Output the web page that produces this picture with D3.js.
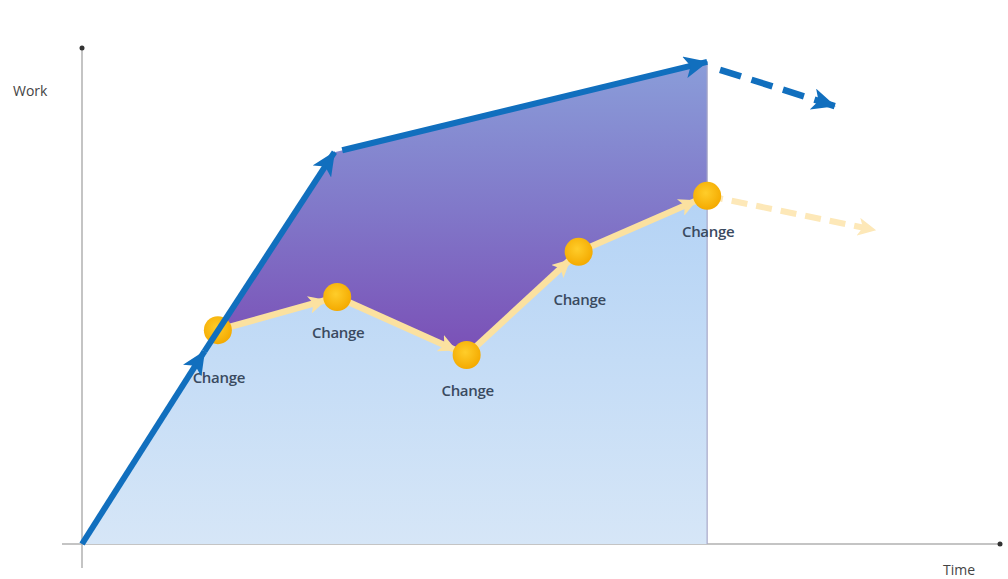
<!DOCTYPE html>
<html>
<head>
<meta charset="utf-8">
<script src="https://cdn.jsdelivr.net/npm/d3@7"></script>
<style>
  body { margin: 0; background: #fff; }
  svg { display: block; }
  .label { font-family: "Open Sans", sans-serif; font-size: 15px; font-weight: 600; fill: #3a4a60; text-anchor: middle; letter-spacing: -0.3px; }
  .axis-title { font-family: "Open Sans", sans-serif; font-size: 14px; fill: #444; }
</style>
</head>
<body>
<svg id="chart" width="1008" height="579"></svg>
<script>
// planned work (blue): time / work
const planTime = [0, 14.8, 27.5, 68.1];
const planWork = [0, 43.1, 79, 97.2];
// projected continuation of the plan (dashed blue)
const planNextTime = [69.5, 82];
const planNextWork = [95.6, 88.3];
// change points (yellow)
const changeTime = [14.8, 27.8, 41.9, 54.1, 68.1];
const changeWork = [43.1, 49.8, 38.1, 58.9, 70.2];
const changeLabels = ["Change", "Change", "Change", "Change", "Change"];
// projected continuation after last change (dashed yellow)
const changeNextTime = [68.1, 86.4];
const changeNextWork = [70.2, 63.3];
const axisLabels = {x: "Time", y: "Work"};

const svg = d3.select("#chart");
const x = d3.scaleLinear().domain([0, 100]).range([82, 1000]);
const y = d3.scaleLinear().domain([0, 100]).range([544, 48]);

const plan = planTime.map((t, i) => ({t: t, w: planWork[i]}));
const changes = changeTime.map((t, i) => ({t: t, w: changeWork[i], label: changeLabels[i]}));
const tEnd = changeTime[changeTime.length - 1];

const defs = svg.append("defs");

function linGrad(id, y1, y2, stops) {
    let g = defs.append("linearGradient").attr("id", id)
        .attr("gradientUnits", "userSpaceOnUse")
        .attr("x1", 0).attr("x2", 0).attr("y1", y1).attr("y2", y2);
    stops.forEach(([o, c]) => g.append("stop").attr("offset", o).attr("stop-color", c));
}
linGrad("purpleGrad", y(97), y(38), [[0, "#8a9dd9"], [0.5, "#8178c9"], [1, "#7a4fb6"]]);
linGrad("blueGrad", y(70), y(0), [[0, "#b4d3f5"], [1, "#d6e6f7"]]);

let rg = defs.append("radialGradient").attr("id", "dotGrad").attr("cx", "45%").attr("cy", "40%").attr("r", "60%");
rg.append("stop").attr("offset", 0).attr("stop-color", "#ffcd2a");
rg.append("stop").attr("offset", 1).attr("stop-color", "#f4aa00");

function marker(id, color, len, wid) {
    defs.append("marker").attr("id", id)
        .attr("markerUnits", "userSpaceOnUse")
        .attr("viewBox", `0 0 ${len} ${wid}`)
        .attr("refX", len - 1).attr("refY", wid / 2)
        .attr("markerWidth", len).attr("markerHeight", wid)
        .attr("orient", "auto")
        .append("path")
        .attr("d", `M0,0 L${len},${wid / 2} L0,${wid} L${len * 0.25},${wid / 2} Z`)
        .attr("fill", color);
}
marker("blueHead", "#116fbe", 24, 22);
marker("yellowHead", "#fbe1a0", 18, 18);
marker("paleHead", "#fde8b8", 18, 18);

const line = d3.line().x(d => x(d.t)).y(d => y(d.w));

// axes
svg.append("line")
    .attr("x1", x(0)).attr("x2", x(0))
    .attr("y1", y(100)).attr("y2", y(0) + 24)
    .attr("stroke", "#b0b0b0").attr("stroke-width", 1.5);
svg.append("circle").attr("cx", x(0)).attr("cy", y(100)).attr("r", 2.5).attr("fill", "#333");
svg.append("line")
    .attr("x1", x(0) - 20).attr("x2", x(100))
    .attr("y1", y(0)).attr("y2", y(0))
    .attr("stroke", "#b0b0b0").attr("stroke-width", 1.5);
svg.append("circle").attr("cx", x(100)).attr("cy", y(0)).attr("r", 2.5).attr("fill", "#333");
svg.append("text").attr("class", "axis-title").attr("x", 13).attr("y", 96).text(axisLabels.y);
svg.append("text").attr("class", "axis-title").attr("x", 943).attr("y", 575).text(axisLabels.x);

// light blue area: below plan up to first change, then below the changes
const lowArea = [plan[0]].concat(changes, [{t: tEnd, w: 0}]);
svg.append("path").attr("d", line(lowArea) + "Z").attr("fill", "url(#blueGrad)");

// purple area between plan and changes
const upper = plan.filter(p => p.t >= changes[0].t);
const purpleArea = upper.concat(changes.slice().reverse());
svg.append("path").attr("d", line(purpleArea) + "Z").attr("fill", "url(#purpleGrad)");

// vertical line at the last change
svg.append("line")
    .attr("x1", x(tEnd)).attr("x2", x(tEnd))
    .attr("y1", y(planWork[planWork.length - 1])).attr("y2", y(0))
    .attr("stroke", "#a8a8c8").attr("stroke-width", 1.2);

// yellow arrows between changes
const r = 14;
for (let i = 0; i < changes.length - 1; i++) {
    let a = changes[i], b = changes[i + 1];
    let x1 = x(a.t), y1 = y(a.w), x2 = x(b.t), y2 = y(b.w);
    let len = Math.hypot(x2 - x1, y2 - y1);
    svg.append("line")
        .attr("x1", x1).attr("y1", y1)
        .attr("x2", x2 - (x2 - x1) / len * (r - 2)).attr("y2", y2 - (y2 - y1) / len * (r - 2))
        .attr("stroke", "#fbe1a0").attr("stroke-width", 6.5)
        .attr("marker-end", "url(#yellowHead)");
}
// dashed yellow projection
svg.append("path")
    .attr("d", line(changeNextTime.map((t, i) => ({t: t, w: changeNextWork[i]}))))
    .attr("stroke", "#fde8b8").attr("stroke-width", 6).attr("fill", "none")
    .attr("stroke-dasharray", "16,9")
    .attr("marker-end", "url(#paleHead)");

// change dots
svg.selectAll("circle.change").data(changes).join("circle")
    .attr("class", "change")
    .attr("cx", d => x(d.t)).attr("cy", d => y(d.w)).attr("r", r)
    .attr("fill", "url(#dotGrad)");

// labels: pushed lower where the incoming arrow climbs steeply from below
svg.selectAll("text.label").data(changes).join("text")
    .attr("class", "label")
    .attr("x", d => x(d.t) + 1)
    .attr("y", (d, i) => {
        let prev = i == 0 ? plan[0] : changes[i - 1];
        let steep = (d.w - prev.w) / (d.t - prev.t) > 1.5;
        return y(d.w) + (steep ? 53 : 41);
    })
    .text(d => d.label);

// blue plan arrows; the first one ends just before the first change
const px = plan.map(p => [x(p.t), y(p.w)]);
function shorten(a, b, d) {
    let len = Math.hypot(b[0] - a[0], b[1] - a[1]);
    return [b[0] - (b[0] - a[0]) / len * d, b[1] - (b[1] - a[1]) / len * d];
}
const firstTip = shorten(px[0], px[1], 25);
const blueSegs = [
    [px[0], firstTip],
    [firstTip, px[2]],
    [shorten(px[3], px[2], 8), px[3]]
];
blueSegs.forEach(s => {
    svg.append("path")
        .attr("d", d3.line()(s))
        .attr("stroke", "#116fbe").attr("stroke-width", 6).attr("fill", "none")
        .attr("marker-end", "url(#blueHead)");
});
// dashed blue projection
svg.append("path")
    .attr("d", line(planNextTime.map((t, i) => ({t: t, w: planNextWork[i]}))))
    .attr("stroke", "#116fbe").attr("stroke-width", 6.5).attr("fill", "none")
    .attr("stroke-dasharray", "22,11")
    .attr("marker-end", "url(#blueHead)");
</script>
</body>
</html>
